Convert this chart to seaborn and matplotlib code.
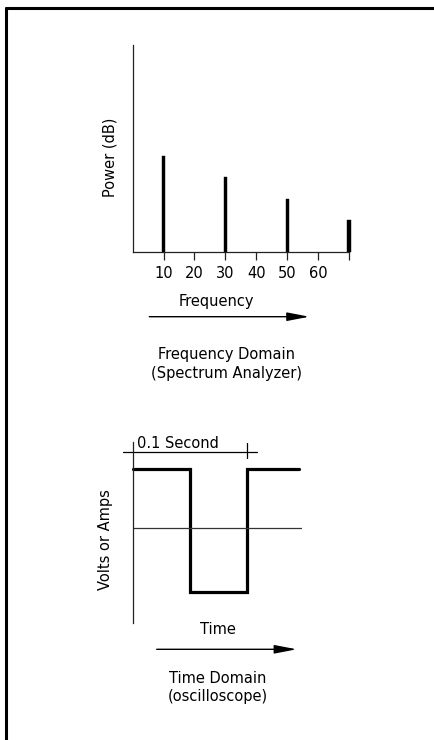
import matplotlib
matplotlib.use("Agg")
import matplotlib.pyplot as plt
import seaborn as sns
import pandas as pd
from matplotlib.lines import Line2D

# ---- data ----
freq = [10, 30, 50, 70]
power = [46.3, 36.3, 25.5, 15.3]
freq_ticks = [10, 20, 30, 40, 50, 60, 70]
freq_tick_labels = ["10", "20", "30", "40", "50", "60", ""]

wave_time = [0.0, 0.05, 0.1, 0.1454]
wave_level = [1.0, -1.08, 1.0, 1.0]
period = 0.1

sns.set_style("white")
plt.rcParams['font.family'] = ['DejaVu Sans']
plt.rcParams['text.color'] = 'black'
plt.rcParams['xtick.color'] = 'black'
plt.rcParams['xtick.labelcolor'] = 'black'
plt.rcParams['xtick.bottom'] = True

FS = 10.5
W, H = 435, 740
fig = plt.figure(figsize=(W / 100, H / 100), dpi=100)


def fx(px):
    return px / W


def fy(py):
    return 1 - py / H


# ---- frame border ----
fig.add_artist(Line2D([fx(6), 1], [fy(8), fy(8)], color="black", lw=2.2, transform=fig.transFigure))
fig.add_artist(Line2D([fx(6), fx(6)], [fy(8), 0], color="black", lw=2.2, transform=fig.transFigure))

# ---- top: spectrum ----
ax1 = fig.add_axes([fx(132.7), fy(251.7), fx(349) - fx(132.7), fy(45) - fy(251.7)])
ax1.set_facecolor("none")
df1 = pd.DataFrame({"freq": freq, "power": power})
sns.barplot(data=df1, x="freq", y="power", native_scale=True, width=0.05,
            color="black", edgecolor="black", linewidth=0.3, ax=ax1)
for p in ax1.patches:
    p.set_clip_on(False)
ax1.set_xlim(0, 70)
ax1.set_ylim(0, 100)
ax1.set_xticks(freq_ticks)
ax1.set_xticklabels(freq_tick_labels, fontsize=FS)
ax1.set_yticks([])
ax1.set_xlabel("")
ax1.set_ylabel("")
for s in ["top", "right"]:
    ax1.spines[s].set_visible(False)
for s in ["left", "bottom"]:
    ax1.spines[s].set_color("#222222")
    ax1.spines[s].set_linewidth(0.9)
ax1.tick_params(axis="x", bottom=True, direction="out", length=6, width=0.9,
                color="#222222", labelcolor="black", pad=4)

fig.text(fx(110), fy(157), "Power (dB)", rotation=90, ha="center", va="center", fontsize=FS)
fig.text(fx(216.7), fy(301.7), "Frequency", ha="center", va="center", fontsize=FS)
fig.add_artist(matplotlib.patches.FancyArrowPatch(
    (fx(149.3), fy(316.7)), (fx(309.3), fy(316.7)), transform=fig.transFigure,
    arrowstyle="-|>,head_length=1.35,head_width=0.26", mutation_scale=10,
    color="black", lw=1.0, shrinkA=0, shrinkB=0))
fig.text(fx(226.7), fy(354), "Frequency Domain", ha="center", va="center", fontsize=FS)
fig.text(fx(226.7), fy(374), "(Spectrum Analyzer)", ha="center", va="center", fontsize=FS)

# ---- bottom: time domain ----
ax2 = fig.add_axes([fx(132.7), fy(623), fx(301.7) - fx(132.7), fy(441.7) - fy(623)])
ax2.set_facecolor("none")
df2 = pd.DataFrame({"t": wave_time, "v": wave_level})
sns.lineplot(data=df2, x="t", y="v", drawstyle="steps-post", color="black",
             lw=2.3, ax=ax2, sort=False, clip_on=False, solid_joinstyle="miter")
ax2.set_xlim(0, 0.1475)
ax2.set_ylim(-1.605, 1.468)
ax2.axhline(0, color="#333333", lw=0.9)
ax2.set_xticks([])
ax2.set_yticks([])
ax2.set_xlabel("")
ax2.set_ylabel("")
for s in ["top", "right", "bottom"]:
    ax2.spines[s].set_visible(False)
ax2.spines["left"].set_color("#222222")
ax2.spines["left"].set_linewidth(0.9)

# dimension line "0.1 Second"
ax2.plot([-0.0082, period + 0.0082], [1.288, 1.288], color="black", lw=0.9, clip_on=False)
ax2.plot([period, period], [1.451, 1.186], color="black", lw=0.9, clip_on=False)
ax2.text(0.0035, 1.44, "0.1 Second", ha="left", va="center", fontsize=FS)

fig.text(fx(106), fy(540), "Volts or Amps", rotation=90, ha="center", va="center", fontsize=FS)
fig.text(fx(218), fy(630), "Time", ha="center", va="center", fontsize=FS)
fig.add_artist(matplotlib.patches.FancyArrowPatch(
    (fx(156.7), fy(649.3)), (fx(296.7), fy(649.3)), transform=fig.transFigure,
    arrowstyle="-|>,head_length=1.35,head_width=0.26", mutation_scale=10,
    color="black", lw=1.0, shrinkA=0, shrinkB=0))
fig.text(fx(218), fy(678.3), "Time Domain", ha="center", va="center", fontsize=FS)
fig.text(fx(218), fy(696.7), "(oscilloscope)", ha="center", va="center", fontsize=FS)

fig.savefig("out.png", dpi=100)
